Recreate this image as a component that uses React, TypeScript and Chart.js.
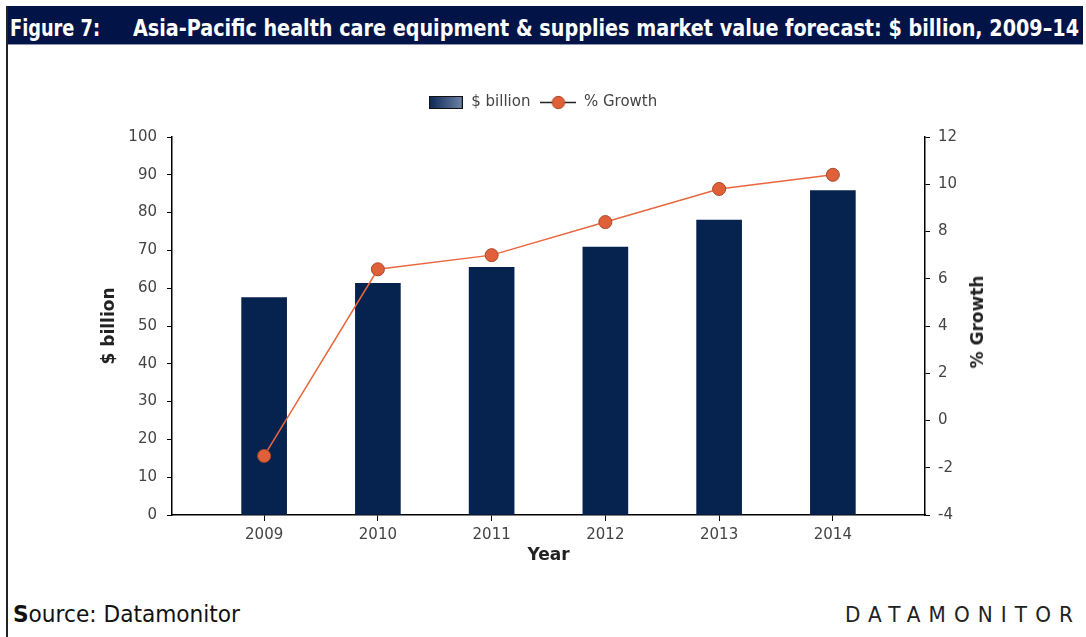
import React, { useEffect, useLayoutEffect, useRef } from 'react';
import { Chart, registerables } from 'chart.js';

Chart.register(...registerables);

// ---- data ----
const years = ['2009', '2010', '2011', '2012', '2013', '2014'];
const marketValue = [57.5, 61.3, 65.5, 70.9, 78.0, 85.8]; // $ billion
const growthPct = [-1.5, 6.4, 7.0, 8.4, 9.8, 10.4]; // % Growth
const seriesNames = ['$ billion', '% Growth'];
const titleLead = 'Figure 7:';
const titleText = 'Asia-Pacific health care equipment & supplies market value forecast: $ billion, 2009–14';
const xTitle = 'Year';

const FONT = '"DejaVu Sans", Verdana, sans-serif';
const NARROW = '"Liberation Sans Narrow", "Arial Narrow", "DejaVu Sans Condensed", "Liberation Sans", sans-serif';

function FitText(props: { children: React.ReactNode; left: number; top: number; width: number; style?: React.CSSProperties }) {
  const ref = useRef<HTMLSpanElement>(null);
  useLayoutEffect(() => {
    const el = ref.current;
    if (!el) return;
    el.style.transform = 'none';
    const w = el.getBoundingClientRect().width;
    if (w > 0) el.style.transform = `scaleX(${props.width / w})`;
  });
  return (
    <span
      ref={ref}
      style={{
        position: 'absolute',
        left: props.left,
        top: props.top,
        whiteSpace: 'nowrap',
        display: 'inline-block',
        transformOrigin: '0 0',
        ...props.style,
      }}
    >
      {props.children}
    </span>
  );
}

function makeBarIcon() {
  const c = document.createElement('canvas');
  c.width = 34;
  c.height = 13;
  const g = c.getContext('2d')!;
  const grad = g.createLinearGradient(0, 0, 34, 0);
  grad.addColorStop(0, '#0B2656');
  grad.addColorStop(1, '#6E83A6');
  g.fillStyle = grad;
  g.fillRect(1, 1, 32, 11);
  g.strokeStyle = '#111';
  g.lineWidth = 1;
  g.strokeRect(0.5, 0.5, 33, 12);
  return c;
}

function makeLineIcon() {
  const c = document.createElement('canvas');
  c.width = 36;
  c.height = 15;
  const g = c.getContext('2d')!;
  g.strokeStyle = '#222';
  g.lineWidth = 1.5;
  g.beginPath();
  g.moveTo(0, 7.5);
  g.lineTo(36, 7.5);
  g.stroke();
  g.beginPath();
  g.arc(18, 7.5, 6.2, 0, Math.PI * 2);
  g.fillStyle = '#E0603A';
  g.fill();
  g.strokeStyle = '#A9472A';
  g.lineWidth = 1;
  g.stroke();
  return c;
}

const legendGap = {
  id: 'legendGap',
  afterInit(chart: any) {
    const lg = chart.legend;
    if (lg && !lg.__patched) {
      const f = lg.fit.bind(lg);
      lg.fit = function () {
        f();
        this.height = 52;
      };
      lg.__patched = true;
    }
  },
};

export default function App() {
  const canvasRef = useRef<HTMLCanvasElement>(null);

  useEffect(() => {
    const canvas = canvasRef.current;
    if (!canvas) return;
    const barIcon = makeBarIcon();
    const lineIcon = makeLineIcon();

    const chart = new Chart(canvas, {
      type: 'bar',
      data: {
        datasets: [
          {
            type: 'bar',
            label: seriesNames[0],
            data: marketValue.map((v, i) => ({ x: i, y: v })),
            backgroundColor: '#062350',
            borderWidth: 0,
            barThickness: 45,
            yAxisID: 'y',
            xAxisID: 'x',
            order: 1,
          },
          {
            type: 'line',
            label: seriesNames[1],
            data: growthPct.map((v, i) => ({ x: i, y: v })),
            borderColor: '#E8673E',
            borderWidth: 1.5,
            pointRadius: 6.5,
            pointBackgroundColor: '#E0603A',
            pointBorderColor: '#A9472A',
            pointBorderWidth: 1,
            tension: 0,
            yAxisID: 'y2',
            xAxisID: 'x',
            order: 0,
          },
        ] as any,
      },
      options: {
        responsive: false,
        devicePixelRatio: 1,
        animation: false,
        layout: { padding: { left: 95, right: 96, top: 25, bottom: 14 } },
        plugins: {
          tooltip: { enabled: false },
          legend: {
            display: true,
            position: 'top',
            align: 'center',
            labels: {
              usePointStyle: true,
              pointStyleWidth: 36,
              padding: 10,
              color: '#444',
              font: { family: FONT, size: 15 },
              generateLabels: () => [
                { text: seriesNames[0], pointStyle: barIcon as any, datasetIndex: 0, fillStyle: '#062350', strokeStyle: '#111', lineWidth: 0, hidden: false, fontColor: '#444' },
                { text: seriesNames[1], pointStyle: lineIcon as any, datasetIndex: 1, fillStyle: '#E0603A', strokeStyle: '#333', lineWidth: 0, hidden: false, fontColor: '#444' },
              ],
            },
          },
        },
        scales: {
          x: {
            type: 'linear',
            min: -0.81,
            max: 5.81,
            offset: false,
            afterBuildTicks: (scale: any) => {
              scale.ticks = years.map((_, i) => ({ value: i }));
            },
            afterFit: (scale: any) => {
              scale.height = 51;
            },
            grid: { offset: false, drawOnChartArea: false, drawTicks: true, tickLength: 6, color: '#000', lineWidth: 1 },
            border: { display: true, color: '#000', width: 1.5 },
            ticks: {
              autoSkip: false,
              maxRotation: 0,
              padding: 5,
              color: '#444',
              font: { family: FONT, size: 15 },
              callback: (v: any) => years[v as number] ?? '',
            },
            title: {
              display: true,
              text: xTitle,
              color: '#222',
              font: { family: FONT, size: 17, weight: 'bold' },
              padding: { top: 0, bottom: 0 },
            },
          },
          y: {
            type: 'linear',
            position: 'left',
            min: 0,
            max: 100,
            afterFit: (scale: any) => {
              scale.width = 77;
            },
            grid: { drawOnChartArea: false, drawTicks: true, tickLength: 5, color: '#000', lineWidth: 1 },
            border: { display: true, color: '#000', width: 1.5 },
            ticks: { stepSize: 10, padding: 10, color: '#444', font: { family: FONT, size: 15 } },
            title: {
              display: true,
              text: seriesNames[0],
              color: '#222',
              font: { family: FONT, size: 17, weight: 'bold' },
              padding: { top: 4, bottom: 0 },
            },
          },
          y2: {
            type: 'linear',
            position: 'right',
            min: -4,
            max: 12,
            afterFit: (scale: any) => {
              scale.width = 65;
            },
            grid: { drawOnChartArea: false, drawTicks: true, tickLength: 5, color: '#000', lineWidth: 1 },
            border: { display: true, color: '#000', width: 1.5 },
            ticks: { stepSize: 2, padding: 8, color: '#444', font: { family: FONT, size: 15 } },
            title: { display: false },
          },
        },
      } as any,
      plugins: [legendGap],
    });
    return () => chart.destroy();
  }, []);

  return (
    <div style={{ position: 'absolute', left: 0, top: 0, width: 1086, height: 637, background: '#fff', overflow: 'hidden' }}>
      {/* title bar */}
      <div style={{ position: 'absolute', left: 7, top: 6, width: 1076, height: 38, background: '#021447' }} />
      <div style={{ position: 'absolute', left: 7, top: 44, width: 1076, height: 1, background: '#8D97B3' }} />
      <FitText left={10} top={17} width={90} style={{ color: '#fff', font: `bold 23px ${NARROW}`, lineHeight: '23px' }}>
        {titleLead}
      </FitText>
      <FitText left={133} top={17} width={946} style={{ color: '#fff', font: `bold 23px ${NARROW}`, lineHeight: '23px' }}>
        {titleText}
      </FitText>
      {/* left frame line */}
      <div style={{ position: 'absolute', left: 6, top: 6, width: 2, height: 631, background: '#222' }} />

      <canvas
        ref={canvasRef}
        width={1086}
        height={520}
        style={{ position: 'absolute', left: 0, top: 60, width: 1086, height: 520, display: 'block' }}
      />

      {/* right axis title (reads bottom-to-top) */}
      <div
        style={{
          position: 'absolute',
          left: 977,
          top: 322,
          transform: 'translate(-50%, -50%) rotate(-90deg)',
          whiteSpace: 'nowrap',
          font: `bold 17px ${FONT}`,
          color: '#222',
          lineHeight: '20px',
        }}
      >
        {seriesNames[1]}
      </div>

      {/* footer */}
      <FitText left={13} top={603} width={227} style={{ color: '#111', font: `23px ${NARROW}`, lineHeight: '23px' }}>
        <b>S</b>ource: Datamonitor
      </FitText>
      <FitText left={845} top={603} width={236} style={{ color: '#222', font: `22px ${NARROW}`, lineHeight: '23px', letterSpacing: '8px' }}>
        DATAMONITOR
      </FitText>
    </div>
  );
}
